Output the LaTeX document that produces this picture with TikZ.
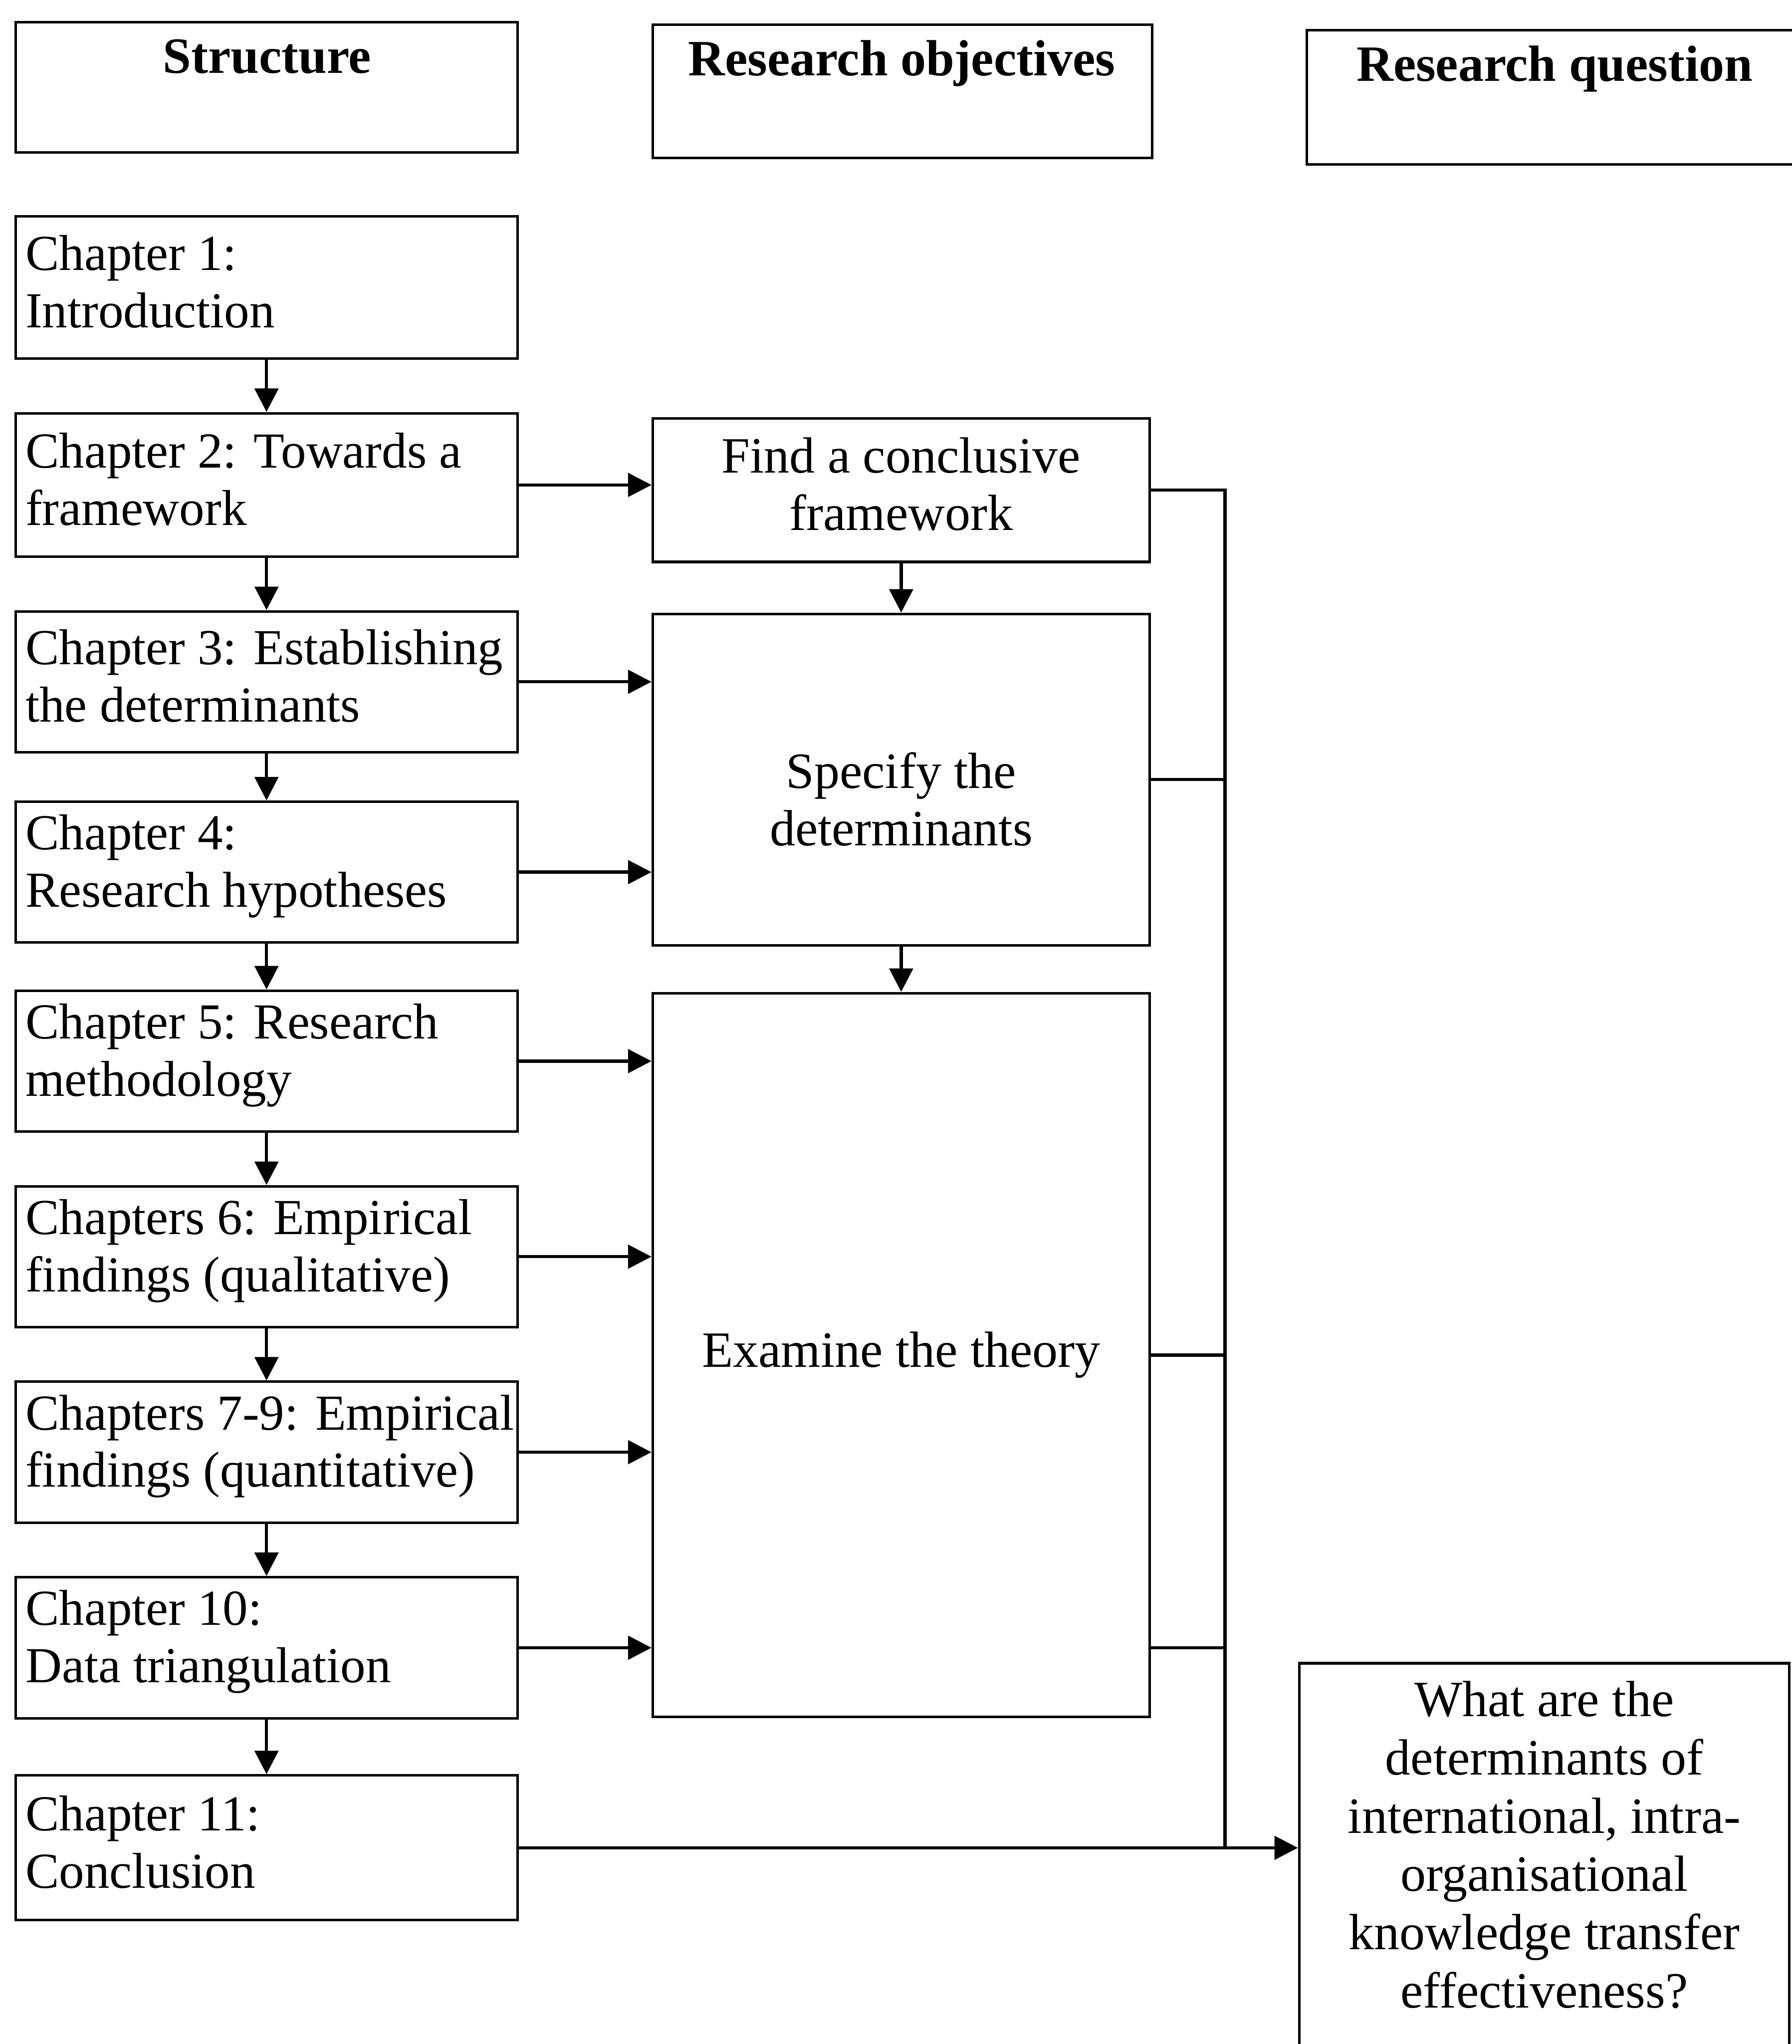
\documentclass[tikz,border=0pt]{standalone}
\usepackage{fontspec}
\setmainfont{Liberation Serif}
\usetikzlibrary{arrows.meta}
\begin{document}
\begin{tikzpicture}[x=0.01cm,y=-0.01cm,
  box/.style={draw=black, line width=0.55pt, inner sep=0pt},
  chbox/.style={box, minimum width=3.85cm, minimum height=1.08cm},
  midbox/.style={box, minimum width=3.81cm},
  hdrtext/.style={font=\fontsize{11.1pt}{12.5pt}\selectfont\bfseries, inner sep=0pt, anchor=base},
  chtext/.style={font=\fontsize{11pt}{12.5pt}\selectfont, align=left, inner sep=0pt, anchor=west, yshift=0.045cm},
  midtext/.style={font=\fontsize{11.1pt}{12.5pt}\selectfont, align=center, inner sep=0pt},
  link/.style={draw=black, line width=0.7pt},
  flow/.style={link, -{Triangle[length=1.8mm,width=1.8mm]}}]

\path[use as bounding box] (0,0) rectangle (1375,1568);
\clip (0,0) rectangle (1375,1568);

% column headers
\node[box, minimum width=3.85cm, minimum height=1.00cm] (hs) at (204.5,67) {};
\node[box, minimum width=3.83cm, minimum height=1.02cm] (ho) at (692.5,70) {};
\node[box, minimum width=4.17cm, minimum height=1.03cm] (hq) at (1211.5,74.5) {};
\node[hdrtext] (hst) at (205,56) {Structure};
\node[hdrtext] (hot) at (692,58) {Research objectives};
\node[hdrtext] (hqt) at (1193,62) {Research question};

% structure column
\node[chbox, minimum height=1.09cm] (c1) at (204.5,220.5) {};
\node[chbox, minimum height=1.10cm] (c2) at (204.5,372) {};
\node[chbox] (c3) at (204.5,523) {};
\node[chbox] (c4) at (204.5,669) {};
\node[chbox] (c5) at (204.5,814) {};
\node[chbox] (c6) at (204.5,964) {};
\node[chbox] (c7) at (204.5,1114) {};
\node[chbox] (c10) at (204.5,1264) {};
\node[chbox, minimum height=1.11cm] (c11) at (204.5,1417.5) {};

\node[chtext] (c1t) at ([xshift=0.08cm]c1.west) {Chapter 1:\\Introduction};
\node[chtext] (c2t) at ([xshift=0.08cm]c2.west) {Chapter 2: Towards a\\framework};
\node[chtext] (c3t) at ([xshift=0.08cm]c3.west) {Chapter 3: Establishing\\the determinants};
\node[chtext] (c4t) at ([xshift=0.08cm]c4.west) {Chapter 4:\\Research hypotheses};
\node[chtext] (c5t) at ([xshift=0.08cm]c5.west) {Chapter 5: Research\\methodology};
\node[chtext] (c6t) at ([xshift=0.08cm]c6.west) {Chapters 6: Empirical\\findings (qualitative)};
\node[chtext] (c7t) at ([xshift=0.08cm]c7.west) {Chapters 7-9: Empirical\\findings (quantitative)};
\node[chtext] (c10t) at ([xshift=0.08cm]c10.west) {Chapter 10:\\Data triangulation};
\node[chtext] (c11t) at ([xshift=0.08cm]c11.west) {Chapter 11:\\Conclusion};

% objectives column
\node[midbox, minimum height=1.10cm] (find) at (691.5,376) {};
\node[midbox, minimum height=2.54cm] (spec) at (691.5,598) {};
\node[midbox, minimum height=5.55cm] (exam) at (691.5,1039.5) {};
\node[midtext, yshift=0.045cm] (findt) at (find.center) {Find a conclusive\\framework};
\node[midtext, yshift=-0.15cm] (spect) at (spec.center) {Specify the\\determinants};
\node[midtext] (examt) at (exam.center) {Examine the theory};

% research question
\node[box, minimum width=3.76cm, minimum height=3.44cm] (q) at (1185,1448) {};
\node[midtext, anchor=north, font=\fontsize{11.1pt}{12.7pt}\selectfont] (qt) at (1185,1289) {What are the\\determinants of\\international, intra-\\organisational\\knowledge transfer\\effectiveness?};

% chapter sequence
\foreach \a/\b in {c1/c2, c2/c3, c3/c4, c4/c5, c5/c6, c6/c7, c7/c10, c10/c11}
  \draw[flow] (\a.south) -- (\b.north);

% chapters feeding the objectives
\draw[flow] (c2.east) -- (c2.east -| find.west);
\draw[flow] (c3.east) -- (c3.east -| spec.west);
\draw[flow] (c4.east) -- (c4.east -| spec.west);
\foreach \c in {c5, c6, c7, c10}
  \draw[flow] (\c.east) -- (\c.east -| exam.west);

% objectives sequence
\draw[flow] (find.south) -- (spec.north);
\draw[flow] (spec.south) -- (exam.north);

% collecting bus towards the research question
\coordinate (bustop) at (940,376);
\draw[link] (find.east) -- (bustop) -- (c11.east -| bustop);
\draw[link] (spec.east) -- (spec.east -| bustop);
\draw[link] (exam.east) -- (exam.east -| bustop);
\draw[link] (exam.east |- c10.east) -- (c10.east -| bustop);
\draw[flow] (c11.east) -- (c11.east -| q.west);
\end{tikzpicture}
\end{document}
